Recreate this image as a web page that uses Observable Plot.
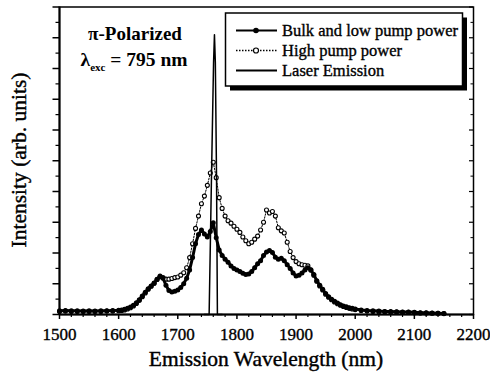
<!DOCTYPE html>
<html><head><meta charset="utf-8">
<script src="https://cdn.jsdelivr.net/npm/d3@7"></script>
<script src="https://cdn.jsdelivr.net/npm/@observablehq/plot@0.6"></script>
<style>
html,body{margin:0;padding:0;background:#fff;}
#chart{width:490px;height:385px;}
svg text{font-family:"Liberation Serif","Times New Roman",serif;}
</style></head><body><div id="chart"></div>
<script>
const wl = [1500,1510,1520,1530,1540,1550,1560,1570,1580,1590,1600,
1605,1610,1615,1620,1625,1630,1635,1640,1645,1650,1655,1660,1665,1670,1675,1680,1685,1690,1695,1700,
1705,1710,1715,1720,1725,1730,1735,1740,1745,1750,1755,1760,1765,1770,1775,1780,1785,1790,1795,1800,
1805,1810,1815,1820,1825,1830,1835,1840,1845,1850,1855,1860,1865,1870,1875,1880,1885,1890,1895,1900,
1905,1910,1915,1920,1925,1930,1935,1940,1945,1950,1955,1960,1965,1970,1975,1980,1985,1990,1995,2000,
2010,2020,2030,2040,2050,2060,2070,2080,2090,2100,2110,2120,2130,2140,2150];

const bulk = [0.12,0.13,0.12,0.12,0.11,0.12,0.11,0.12,0.12,0.13,0.14,
0.15,0.17,0.2,0.24,0.3,0.38,0.48,0.6,0.72,0.84,0.93,1.02,1.15,1.25,1.18,0.95,0.78,0.73,0.76,0.8,
0.88,1.0,1.18,1.45,1.85,2.3,2.6,2.75,2.62,2.52,2.7,2.98,2.5,2.1,1.92,1.8,1.7,1.58,1.5,1.45,
1.4,1.34,1.3,1.32,1.4,1.52,1.65,1.75,1.92,2.03,2.08,2.02,1.86,1.8,1.83,1.75,1.62,1.5,1.35,1.25,
1.28,1.35,1.45,1.52,1.45,1.3,1.1,0.95,0.82,0.68,0.58,0.5,0.43,0.37,0.32,0.28,0.25,0.22,0.2,0.18,
0.15,0.13,0.12,0.11,0.1,0.1,0.09,0.08,0.08,0.07,0.06,0.06,0.05,0.04,0.03];

const high = [0.1,0.11,0.1,0.1,0.1,0.1,0.1,0.1,0.11,0.11,0.12,
0.13,0.15,0.18,0.22,0.28,0.36,0.46,0.58,0.7,0.82,0.92,1.02,1.14,1.23,1.2,1.15,1.15,1.17,1.2,1.22,
1.28,1.36,1.52,1.85,2.3,2.8,3.2,3.6,3.85,4.2,4.6,4.95,4.45,3.8,3.45,3.2,3.05,2.97,2.87,2.77,
2.67,2.52,2.4,2.3,2.35,2.45,2.55,2.75,3.0,3.4,3.3,3.35,3.2,2.82,2.72,2.65,2.35,2.05,1.85,1.72,
1.65,1.62,1.6,1.58,1.45,1.28,1.08,0.93,0.8,0.66,0.56,0.48,0.41,0.35,0.3,0.26,0.23,0.2,0.18,0.16,
0.13,0.11,0.1,0.09,0.09,0.08,0.08,0.07,0.07,0.06,0.05,0.05,0.04,0.04,0.03];

const laserWl = [1745,1753,1757,1760.5,1762,1763.5,1765.5,1767,1775];
const laser = [0,0,4.5,8.2,9.1,8.2,4.5,0,0];

const xTicks = [1500,1600,1700,1800,1900,2000,2100,2200];
const xMinor = [1520,1540,1560,1580,1620,1640,1660,1680,1720,1740,1760,1780,1820,1840,1860,1880,
1920,1940,1960,1980,2020,2040,2060,2080,2120,2140,2160,2180];
const yMajor = [0,1,2,3,4,5,6,7,8,9,10];
const yMinor = [0.5,1.5,2.5,3.5,4.5,5.5,6.5,7.5,8.5,9.5];

const seriesNames = ["Bulk and low pump power","High pump power","Laser Emission"];
const xTitle = "Emission Wavelength (nm)";
const yTitle = "Intensity (arb. units)";
const note1 = "π-Polarized";
const note2 = ["λ","exc"," = 795 nm"];

const bulkData = wl.map((w,i)=>({w, v:bulk[i]}));
const highData = wl.map((w,i)=>({w, v:high[i]}));
const laserData = laserWl.map((w,i)=>({w, v:laser[i]}));

const W=490,H=385,mL=59,mR=17,mT=6.5,mB=71;
const plotW = W-mL-mR;
const blank = () => "";

const plot = Plot.plot({
  width:W, height:H, marginLeft:mL, marginRight:mR, marginTop:mT, marginBottom:mB,
  x:{domain:[1500,2200]}, y:{domain:[0,10]},
  style:{background:"white", color:"black", fontFamily:"Liberation Serif, Times New Roman, serif"},
  marks:[
    Plot.axisX({ticks:xMinor, tickSize:3, strokeWidth:1.2, tickFormat:blank, label:null}),
    Plot.axisX({ticks:xTicks, tickSize:5, strokeWidth:1.5, tickFormat:blank, label:null}),
    Plot.axisX({ticks:xTicks, tickFormat:d=>String(d), fontSize:17, tickSize:0, tickPadding:13, label:null}),
    Plot.axisY({ticks:yMinor, tickSize:3.5, strokeWidth:1.2, tickFormat:blank, label:null}),
    Plot.axisY({ticks:yMajor, tickSize:6.5, strokeWidth:1.5, tickFormat:blank, label:null}),
    Plot.tickY(yMajor, {y:d=>d, insetLeft:plotW-4, strokeWidth:1.2}),
    Plot.tickY(yMinor, {y:d=>d, insetLeft:plotW-2.5, strokeWidth:1}),
    Plot.frame({strokeWidth:1.5}),
    Plot.ruleX([1500], {strokeWidth:2}),
    Plot.ruleY([0], {strokeWidth:2}),
    Plot.line(highData, {x:"w", y:"v", strokeWidth:1, strokeDasharray:"1.5,1.5"}),
    Plot.dot(highData, {x:"w", y:"v", r:2, fill:"white", stroke:"black", strokeWidth:1.1}),
    Plot.line(bulkData, {x:"w", y:"v", strokeWidth:3}),
    Plot.dot(bulkData, {x:"w", y:"v", r:2.5, fill:"black", stroke:"none"}),
    Plot.line(laserData, {x:"w", y:"v", strokeWidth:1.5})
  ]
});
document.getElementById("chart").appendChild(plot);

const svg = d3.select(plot);
svg.selectAll("g[aria-label='x-axis tick label'] text").attr("stroke","black").attr("stroke-width",0.35);
// axis titles
svg.append("text").attr("x", mL + plotW/2).attr("y", 366).attr("text-anchor","middle")
  .attr("font-size", 21.5).attr("stroke","black").attr("stroke-width",0.4).attr("fill","black").text(xTitle);
svg.append("text").attr("transform","translate(26,160) rotate(-90)").attr("text-anchor","middle")
  .attr("font-size", 21.5).attr("stroke","black").attr("stroke-width",0.4).attr("fill","black").text(yTitle);

// annotation
svg.append("text").attr("x",135).attr("y",39.5).attr("text-anchor","middle")
  .attr("font-size",19).attr("font-weight","bold").attr("fill","black").text(note1);
const t2 = svg.append("text").attr("x",134).attr("y",65.5).attr("text-anchor","middle")
  .attr("font-size",19.5).attr("font-weight","bold").attr("fill","black");
t2.append("tspan").text(note2[0]);
t2.append("tspan").attr("font-size",11).attr("dy",5).text(note2[1]);
t2.append("tspan").attr("dy",-5).text(note2[2]);

// legend
const lg = svg.append("g");
lg.append("rect").attr("x",230).attr("y",17.5).attr("width",237).attr("height",73).attr("fill","black");
lg.append("rect").attr("x",225.5).attr("y",13).attr("width",237).attr("height",73)
  .attr("fill","white").attr("stroke","black").attr("stroke-width",1.5);
const rows = [30.5, 50.5, 70.5];
lg.append("line").attr("x1",236).attr("x2",277).attr("y1",rows[0]).attr("y2",rows[0]).attr("stroke","black").attr("stroke-width",2);
lg.append("circle").attr("cx",256).attr("cy",rows[0]).attr("r",2.8).attr("fill","black");
lg.append("line").attr("x1",236).attr("x2",277).attr("y1",rows[1]).attr("y2",rows[1]).attr("stroke","black").attr("stroke-width",1.3).attr("stroke-dasharray","1.5,1.5");
lg.append("circle").attr("cx",256).attr("cy",rows[1]).attr("r",2.5).attr("fill","white").attr("stroke","black").attr("stroke-width",1.2);
lg.append("line").attr("x1",236).attr("x2",277).attr("y1",rows[2]).attr("y2",rows[2]).attr("stroke","black").attr("stroke-width",2);
seriesNames.forEach((s,i)=>{
  lg.append("text").attr("x",282).attr("y",rows[i]+5.5).attr("font-size",16.5).attr("text-anchor","start")
    .attr("fill","black").attr("stroke","black").attr("stroke-width",0.35).text(s);
});
</script></body></html>
